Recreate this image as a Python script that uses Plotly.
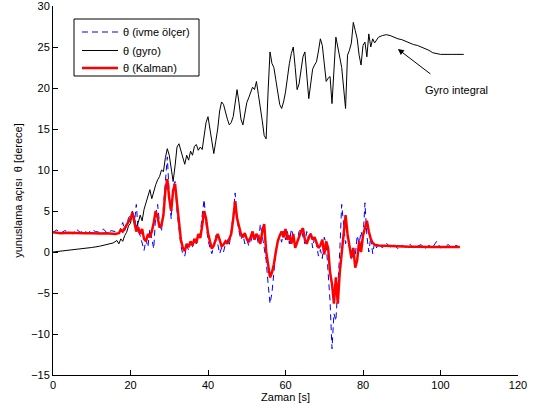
import plotly.graph_objects as go

# ---------------- data ----------------
gyro_t = [0, 2, 4, 6, 8, 10, 12, 14, 15.5, 16.5, 17, 17.5, 18, 18.5, 19, 19.5, 20, 20.5, 21, 21.5,
          22, 22.5, 23, 23.5, 24, 24.5, 25, 25.5, 26, 26.5, 27, 27.5, 28, 28.5, 29, 29.5, 30, 30.5,
          31, 31.5, 32, 32.5, 33, 33.5, 34, 34.5, 35, 35.5, 36, 36.5, 37, 37.5, 38, 38.5, 39, 39.5,
          40, 40.5, 41, 41.5, 42, 42.5, 43, 43.5, 44, 44.5, 45, 45.5, 46, 46.5, 47, 47.5, 48, 48.5,
          49, 49.5, 50, 50.5, 51, 51.5, 52, 52.5, 53, 53.5, 54, 54.5, 55, 55.5, 56, 56.5, 57, 57.5,
          58, 58.5, 59, 59.5, 60, 60.5, 61, 61.5, 62, 62.5, 63, 63.5, 64, 64.5, 65, 65.5, 66, 66.5,
          67, 67.5, 68, 68.5, 69, 69.5, 70, 70.5, 71, 71.5, 72, 72.5, 73, 73.5, 74, 74.5, 75, 75.5,
          76, 76.5, 77, 77.5, 78, 78.5, 79, 79.5, 80, 80.5, 81, 81.5, 82, 82.5, 83, 84, 85, 86, 87,
          88, 89, 90, 91, 92, 93, 94, 95, 96, 97, 98, 99, 100, 103, 106]
gyro_theta = [0, 0.1, 0.25, 0.35, 0.45, 0.55, 0.7, 0.9, 1.1, 1.4, 1.0, 1.6, 1.3, 2.0, 2.4, 3.2, 3.5, 4.8, 4.2, 3.0,
              3.6, 4.5, 3.8, 5.2, 6.0, 6.8, 7.6, 6.5, 7.4, 8.2, 8.8, 9.2, 10.0, 9.8, 11.5, 12.6, 11.8, 10.0,
              8.6, 10.5, 12.8, 13.2, 12.4, 11.6, 10.7, 11.8, 11.2, 12.3, 11.8, 12.9, 13.1, 12.4, 12.8, 12.5, 14.5, 15.8,
              16.5, 14.8, 13.6, 12.0, 13.5, 15.0, 17.2, 18.3, 18.0, 17.0, 16.2, 15.5, 15.8, 16.5, 18.2, 19.8, 18.2, 16.2,
              15.5, 16.8, 18.2, 18.8, 19.6, 20.1, 19.8, 20.8, 19.2, 17.8, 16.0, 14.2, 13.8, 19.5, 24.4, 23.0, 22.5, 21.0,
              19.5, 18.0, 17.5, 18.3, 19.5, 21.5, 23.0, 24.2, 25.0, 22.5, 19.8, 20.5, 22.5, 23.8, 24.4, 21.0, 18.7, 20.5,
              22.3, 22.8, 23.2, 24.5, 26.0, 25.2, 22.5, 20.8, 21.2, 21.4, 18.1, 22.0, 26.2, 25.0, 23.5, 22.5, 20.0, 17.5,
              24.0, 24.6, 25.5, 28.0, 27.0, 26.0, 24.0, 22.8, 25.2, 25.6, 23.8, 26.6, 25.0, 26.0, 25.5, 26.2, 26.4, 26.5, 26.4,
              26.2, 26.0, 25.9, 25.7, 25.5, 25.3, 25.2, 25.0, 24.8, 24.6, 24.3, 24.2, 24.1, 24.1, 24.1]

accel_t = [0, 1, 2, 3, 4, 5, 6, 7, 8, 9, 10, 11, 12, 13, 14, 15, 16, 17,
           17.5, 18, 18.5, 19, 19.5, 20, 20.5, 21, 21.5, 22, 22.5, 23, 23.5, 24, 24.5, 25, 25.5, 26,
           26.5, 27, 27.5, 28, 28.5, 29, 29.5, 30, 30.5, 31, 31.5, 32, 32.5, 33, 33.5, 34, 34.5, 35,
           35.5, 36, 36.5, 37, 37.5, 38, 38.5, 39, 39.5, 40, 40.5, 41, 41.5, 42, 42.5, 43, 43.5, 44,
           44.5, 45, 45.5, 46, 46.5, 47, 47.5, 48, 48.5, 49, 49.5, 50, 50.5, 51, 51.5, 52, 52.5, 53,
           53.5, 54, 54.5, 55, 55.5, 56, 56.5, 57, 57.5, 58, 58.5, 59, 59.5, 60, 60.5, 61, 61.5, 62,
           62.5, 63, 63.5, 64, 64.5, 65, 65.5, 66, 66.5, 67, 67.5, 68, 68.5, 69, 69.5, 70, 70.5, 71,
           71.5, 72, 72.5, 73, 73.5, 74, 74.5, 75, 75.5, 76, 76.5, 77, 77.5, 78, 78.5, 79, 79.5, 80,
           80.5, 81, 81.5, 82, 82.5, 83, 83.5, 84,
           85, 86, 87, 88, 89, 90, 91, 92, 93, 94, 95, 96, 97, 98, 99, 100, 101, 102, 103, 104, 105]
accel_theta = [2.4, 2.7, 2.3, 2.6, 2.5, 2.2, 2.8, 2.4, 2.6, 2.3, 2.7, 2.5, 2.4, 2.8, 2.3, 2.6, 2.5, 2.2,
               3.0, 3.6, 2.6, 3.2, 4.2, 4.5, 5.0, 3.5, 5.8, 2.5, 2.0, 1.0, 0.2, 1.5, 0.6, 2.8, 1.6, 0.4,
               4.5, 5.8, 3.5, 2.5, 5.5, 9.0, 11.6, 7.0, 4.0, 8.0, 8.6, 5.0, 2.5, 0.8, -0.3, -0.5, 0.8, 0.2,
               1.2, 0.6, 1.5, 1.0, 1.8, 2.2, 4.5, 6.4, 3.5, 1.5, 0.5, -0.2, 0.8, 2.0, 1.0, -0.2, 0.5, 0.0,
               1.0, 1.5, 0.8, 2.5, 4.5, 7.2, 4.0, 2.5, 1.5, 2.2, 1.0, 1.5, 0.8, 1.2, 2.0, 1.5, 2.2, 1.0,
               3.4, 2.0, 0.5, -1.0, -3.8, -6.3, -5.0, -2.0, 0.0, 1.5, 2.0, 1.2, 2.5, 1.5, 2.5, 1.0, 2.8, 2.0,
               0.5, 1.2, 2.5, 2.8, 2.0, 1.0, 2.5, 1.5, 2.3, 0.5, 1.8, 1.0, -0.5, 0.3, -0.8, 1.8, 1.0, -2.0,
               -6.0, -11.8, -7.5, -8.4, -4.5, 0.0, 5.8, 3.0, 1.0, 2.0, 0.5, -1.0, 0.5, -0.5, 2.0, 1.0, 2.5, 1.5,
               6.0, 2.0, 0.0, 1.8, -0.2, 1.2, 0.5, 1.0,
               0.5, 1.1, 0.6, 0.9, 0.4, 0.8, 0.6, 1.0, 0.5, 0.7, 0.9, 0.4, 0.8, 0.6, 1.3, 0.5, 0.7, 0.9, 0.5, 0.8, 0.6]

kalman_t = [0, 2, 4, 6, 8, 10, 12, 14, 16, 17,
            17.5, 18, 18.5, 19, 19.5, 20, 20.5, 21, 21.5, 22, 22.5, 23, 23.5, 24, 24.5, 25, 25.5, 26,
            26.5, 27, 27.5, 28, 28.5, 29, 29.5, 30, 30.5, 31, 31.5, 32, 32.5, 33, 33.5, 34, 34.5, 35,
            35.5, 36, 36.5, 37, 37.5, 38, 38.5, 39, 39.5, 40, 40.5, 41, 41.5, 42, 42.5, 43, 43.5, 44,
            44.5, 45, 45.5, 46, 46.5, 47, 47.5, 48, 48.5, 49, 49.5, 50, 50.5, 51, 51.5, 52, 52.5, 53,
            53.5, 54, 54.5, 55, 55.5, 56, 56.5, 57, 57.5, 58, 58.5, 59, 59.5, 60, 60.5, 61, 61.5, 62,
            62.5, 63, 63.5, 64, 64.5, 65, 65.5, 66, 66.5, 67, 67.5, 68, 68.5, 69, 69.5, 70, 70.5, 71,
            71.5, 72, 72.5, 73, 73.5, 74, 74.5, 75, 75.5, 76, 76.5, 77, 77.5, 78, 78.5, 79, 79.5, 80,
            80.5, 81, 81.5, 82, 82.5, 83,
            84, 86, 88, 90, 92, 94, 96, 98, 100, 102, 105]
kalman_theta = [2.4, 2.3, 2.35, 2.3, 2.3, 2.3, 2.25, 2.3, 2.2, 2.3,
                2.7, 2.5, 2.9, 3.3, 3.8, 4.1, 4.8, 3.5, 2.5, 3.0, 2.2, 2.8, 1.6, 1.3, 2.2, 1.8, 2.5, 3.6,
                5.0, 4.2, 3.0, 3.3, 4.5, 7.5, 8.9, 6.5, 5.0, 7.5, 8.3, 6.0, 3.8, 1.5, 0.5, 0.1, 1.0, 0.6,
                1.3, 0.8, 1.6, 1.1, 2.2, 1.7, 3.2, 5.0, 4.1, 2.3, 1.3, 0.4, 0.8, 1.5, 2.2, 1.5, 0.7, 0.9,
                1.3, 1.0, 1.5, 2.2, 4.0, 6.2, 4.1, 3.0, 2.2, 1.8, 2.3, 1.6, 1.3, 1.8, 2.5, 1.5, 2.2, 1.8,
                1.0, 2.5, 3.4, 0.1, -1.5, -3.1, -2.5, -1.5, 0.0, 1.3, 2.0, 2.5, 1.8, 2.8, 1.5, 2.0, 1.0, 2.2,
                0.5, 1.2, 2.0, 2.5, 2.9, 1.5, 1.0, 1.8, 2.2, 1.5, 1.8, 1.0, 0.5, 0.8, 1.5, -0.3, 1.3, 0.5,
                -2.5, -3.9, -6.3, -3.1, -6.3, -2.5, 0.1, 2.5, 4.5, 2.2, 0.8, -0.7, 0.5, -1.9, -1.0, 1.3, 0.0, 2.0,
                2.9, 3.8, 2.5, 1.6, 1.1, 0.9,
                0.8, 0.75, 0.7, 0.7, 0.65, 0.65, 0.6, 0.6, 0.6, 0.6, 0.6]

series_names = ["θ (ivme ölçer)", "θ (gyro)", "θ (Kalman)"]
x_ticks = [0, 20, 40, 60, 80, 100, 120]
y_ticks = [-15, -10, -5, 0, 5, 10, 15, 20, 25, 30]

# ---------------- figure ----------------
FONT = "Liberation Sans, Arial, Helvetica, sans-serif"
W, H = 546, 414
ML, MR, MT, MB = 53, 28, 6, 39
PW, PH = W - ML - MR, H - MT - MB

def px_x(px):
    return (px - ML) / PW

def px_y(py):
    return (H - MB - py) / PH

styles = [dict(color="#0000FF", width=1, dash="6px,4px"),
          dict(color="#000000", width=1),
          dict(color="#FF0000", width=2.5)]

fig = go.Figure()
fig.add_trace(go.Scatter(x=accel_t, y=accel_theta, mode="lines", name=series_names[0], line=styles[0]))
fig.add_trace(go.Scatter(x=gyro_t, y=gyro_theta, mode="lines", name=series_names[1], line=styles[1]))
fig.add_trace(go.Scatter(x=kalman_t, y=kalman_theta, mode="lines", name=series_names[2], line=styles[2]))

axis_common = dict(showgrid=False, zeroline=False, showline=True, linecolor="#000000", linewidth=1,
                   ticks="inside", ticklen=5, tickcolor="#000000", mirror=False, automargin=False,
                   ticklabeloverflow="allow",
                   tickfont=dict(family=FONT, size=11, color="#000000"))

fig.update_xaxes(range=[0, 120], tickvals=x_ticks, **axis_common,
                 title=dict(text="Zaman [s]", font=dict(family=FONT, size=11, color="#000000"), standoff=2))
fig.update_yaxes(range=[-15, 30], tickvals=y_ticks, **axis_common,
                 title=dict(text="yunuslama açısı  θ [derece]", font=dict(family=FONT, size=11, color="#000000"),
                            standoff=6))

# legend box (MATLAB style) drawn in paper space
fig.add_shape(type="rect", xref="paper", yref="paper",
              x0=px_x(74), x1=px_x(199), y0=px_y(76), y1=px_y(19),
              line=dict(color="#000000", width=1), fillcolor="white", layer="above")
row_y = [32, 50.5, 68]
for name, st, ry in zip(series_names, styles, row_y):
    fig.add_shape(type="line", xref="paper", yref="paper",
                  x0=px_x(82), x1=px_x(118), y0=px_y(ry), y1=px_y(ry),
                  line=st, layer="above")
    fig.add_annotation(xref="paper", yref="paper", x=px_x(121), y=px_y(ry), text=name,
                       showarrow=False, xanchor="left", yanchor="middle",
                       font=dict(family=FONT, size=11, color="#000000"))

fig.add_annotation(x=89.0, y=24.75, xref="x", yref="y", ax=34, ay=26, axref="pixel", ayref="pixel",
                   text="", showarrow=True, arrowhead=2, arrowsize=1.2, arrowwidth=1, arrowcolor="#000000")
fig.add_annotation(x=104.0, y=19.8, xref="x", yref="y", text="Gyro integral", showarrow=False,
                   font=dict(family=FONT, size=11, color="#000000"))

fig.update_layout(
    width=W, height=H,
    margin=dict(l=ML, r=MR, t=MT, b=MB, autoexpand=False),
    paper_bgcolor="white", plot_bgcolor="white",
    showlegend=False,
    font=dict(family=FONT, size=11, color="#000000"),
)

fig.write_html("out.html", config={"displayModeBar": False},
               post_script="document.body.style.margin='0px';document.body.style.padding='0px';")
